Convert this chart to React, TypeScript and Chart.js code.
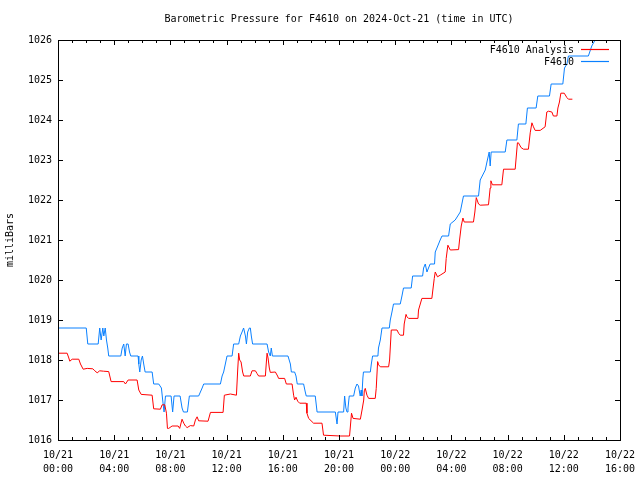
import React, { useEffect, useRef } from 'react';
import { Chart, registerables } from 'chart.js';

Chart.register(...registerables);

const TITLE = 'Barometric Pressure for F4610 on 2024-Oct-21 (time in UTC)';
const Y_TITLE = 'milliBars';
const X_TICK_DATES = ['10/21', '10/21', '10/21', '10/21', '10/21', '10/21', '10/22', '10/22', '10/22', '10/22', '10/22'];
const X_TICK_TIMES = ['00:00', '04:00', '08:00', '12:00', '16:00', '20:00', '00:00', '04:00', '08:00', '12:00', '16:00'];
const X_MIN = 0;
const X_MAX = 40;
const Y_MIN = 1016;
const Y_MAX = 1026;

const SERIES_NAMES = ['F4610 Analysis', 'F4610'];
const SERIES_COLORS = ['#ff0000', '#0a80ff'];

// hours since 10/21 00:00 UTC
const analysisHours = [
  0, 0.65, 0.77, 0.84, 1.01, 1.48, 1.6, 1.79, 2.08, 2.48, 2.62, 2.79, 2.97, 3.24, 3.61, 3.78, 4.68, 4.8, 4.99, 5.63,
  5.75, 5.92, 6.7, 6.81, 7.29, 7.41, 7.6, 7.72, 7.79, 7.88, 8.12, 8.55, 8.66, 8.83, 8.95, 9.07, 9.19, 9.42, 9.66, 9.78,
  9.9, 10.01, 10.68, 10.85, 11.75, 11.84, 12.27, 12.7, 12.79, 12.86, 12.93, 13.03, 13.14, 13.22, 13.69, 13.81, 14.05, 14.17, 14.28, 14.76,
  14.83, 14.88, 14.95, 15.04, 15.11, 15.47, 15.63, 15.7, 16.13, 16.25, 16.66, 16.77, 16.84, 16.94, 17.06, 17.2, 17.67, 17.72, 17.84, 18.19,
  18.79, 18.9, 20.09, 20.75, 20.8, 20.89, 21.0, 21.52, 21.64, 21.76, 21.8, 21.87, 21.99, 22.11, 22.58, 22.65, 22.75, 22.82, 22.94, 23.53,
  23.6, 23.72, 24.13, 24.24, 24.36, 24.59, 24.64, 24.77, 24.84, 24.95, 25.62, 25.66, 25.9, 26.61, 26.68, 26.78, 26.85, 27.01, 27.2, 27.56,
  27.63, 27.75, 27.92, 28.51, 28.58, 28.7, 28.82, 28.91, 29.57, 29.67, 29.77, 29.93, 30.05, 30.64, 30.76, 30.81, 30.92, 31.59, 31.71, 32.54,
  32.7, 32.77, 32.96, 33.13, 33.48, 33.61, 33.73, 33.84, 33.96, 34.32, 34.67, 34.79, 34.91, 35.15, 35.26, 35.51, 35.58, 35.69, 35.79, 36.03,
  36.22, 36.33, 36.61,
];
const analysisMb = [
  1018.17, 1018.17, 1018.05, 1017.97, 1018.02, 1018.02, 1017.9, 1017.77, 1017.79, 1017.78, 1017.73, 1017.68, 1017.73, 1017.72, 1017.71, 1017.46, 1017.46, 1017.4, 1017.5, 1017.5,
  1017.25, 1017.14, 1017.12, 1016.78, 1016.77, 1016.88, 1016.88, 1016.67, 1016.29, 1016.29, 1016.35, 1016.35, 1016.29, 1016.52, 1016.42, 1016.35, 1016.31, 1016.36, 1016.35, 1016.5,
  1016.58, 1016.48, 1016.47, 1016.69, 1016.69, 1017.12, 1017.15, 1017.12, 1017.75, 1018.17, 1018.0, 1017.95, 1017.7, 1017.6, 1017.6, 1017.73, 1017.73, 1017.66, 1017.6, 1017.6,
  1017.95, 1018.17, 1018.05, 1017.8, 1017.69, 1017.7, 1017.6, 1017.54, 1017.54, 1017.4, 1017.4, 1017.12, 1017.0, 1017.07, 1016.97, 1016.92, 1016.92, 1016.67, 1016.54, 1016.42,
  1016.42, 1016.12, 1016.1, 1016.1, 1016.3, 1016.67, 1016.54, 1016.52, 1016.75, 1017.0, 1017.23, 1017.29, 1017.12, 1017.04, 1017.04, 1017.29, 1017.96, 1017.88, 1017.83, 1017.83,
  1018.0, 1018.75, 1018.75, 1018.67, 1018.62, 1018.62, 1018.9, 1019.14, 1019.08, 1019.04, 1019.04, 1019.25, 1019.54, 1019.54, 1019.75, 1020.04, 1020.2, 1020.08, 1020.12, 1020.2,
  1020.54, 1020.87, 1020.75, 1020.76, 1021.0, 1021.35, 1021.55, 1021.45, 1021.45, 1021.7, 1022.06, 1021.9, 1021.87, 1021.88, 1022.3, 1022.48, 1022.38, 1022.38, 1022.77, 1022.77,
  1023.43, 1023.43, 1023.31, 1023.27, 1023.27, 1023.68, 1023.93, 1023.83, 1023.74, 1023.74, 1023.83, 1024.2, 1024.22, 1024.2, 1024.1, 1024.1, 1024.3, 1024.45, 1024.67, 1024.67,
  1024.56, 1024.52, 1024.52,
];

const stationHours = [
  0, 2.01, 2.12, 2.86, 2.97, 3.07, 3.19, 3.26, 3.36, 3.45, 3.54, 3.61, 4.47, 4.57, 4.68, 4.78, 4.87, 4.99, 5.09, 5.18,
  5.7, 5.75, 5.82, 5.92, 6.01, 6.1, 6.2, 6.7, 6.81, 7.17, 7.36, 7.45, 7.55, 7.65, 8.05, 8.16, 8.26, 8.69, 8.83, 8.93,
  9.21, 9.35, 10.01, 10.26, 10.37, 11.56, 11.68, 11.79, 11.91, 12.03, 12.39, 12.5, 12.86, 12.98, 13.1, 13.21, 13.34, 13.41, 13.5, 13.62,
  13.69, 13.76, 13.85, 14.88, 14.99, 15.11, 15.18, 15.26, 16.37, 16.54, 16.61, 16.84, 16.94, 17.03, 17.48, 17.6, 17.67, 18.31, 18.44, 19.74,
  19.86, 19.93, 20.33, 20.4, 20.49, 20.57, 20.64, 20.73, 21.04, 21.16, 21.28, 21.39, 21.51, 21.58, 21.63, 21.7, 21.74, 22.23, 22.3, 22.39,
  22.77, 22.81, 22.94, 23.06, 23.58, 23.65, 23.77, 23.88, 24.36, 24.48, 24.59, 25.14, 25.24, 25.95, 26.02, 26.14, 26.26, 26.37, 26.49, 26.8,
  26.85, 26.97, 27.2, 27.33, 27.8, 27.92, 28.27, 28.63, 28.86, 29.93, 30.05, 30.41, 30.53, 30.69, 30.76, 30.83, 31.83, 31.95, 32.66, 32.77,
  33.3, 33.41, 34.03, 34.15, 34.98, 35.1, 35.93, 36.05, 36.22, 36.33, 37.75, 37.99, 38.23, 38.37,
];
const stationMb = [
  1018.8, 1018.8, 1018.4, 1018.4, 1018.8, 1018.5, 1018.8, 1018.6, 1018.8, 1018.5, 1018.3, 1018.1, 1018.1, 1018.3, 1018.4, 1018.1, 1018.4, 1018.4, 1018.2, 1018.1,
  1018.1, 1017.9, 1017.7, 1018.0, 1018.1, 1017.9, 1017.7, 1017.7, 1017.4, 1017.4, 1017.3, 1017.0, 1016.7, 1017.1, 1017.1, 1016.7, 1017.1, 1017.1, 1016.8, 1016.7,
  1016.7, 1017.1, 1017.1, 1017.3, 1017.4, 1017.4, 1017.6, 1017.7, 1017.9, 1018.1, 1018.1, 1018.4, 1018.4, 1018.6, 1018.7, 1018.8, 1018.6, 1018.4, 1018.7, 1018.8,
  1018.8, 1018.6, 1018.4, 1018.4, 1018.2, 1018.1, 1018.3, 1018.1, 1018.1, 1017.9, 1017.7, 1017.7, 1017.6, 1017.4, 1017.4, 1017.2, 1017.1, 1017.1, 1016.7, 1016.7,
  1016.4, 1016.7, 1016.7, 1017.1, 1016.8, 1016.7, 1016.8, 1017.1, 1017.1, 1017.3, 1017.4, 1017.35, 1017.1, 1017.25, 1017.1, 1017.55, 1017.7, 1017.7, 1017.9, 1018.1,
  1018.1, 1018.3, 1018.5, 1018.8, 1018.8, 1019.0, 1019.2, 1019.4, 1019.4, 1019.6, 1019.8, 1019.8, 1020.1, 1020.1, 1020.3, 1020.4, 1020.2, 1020.3, 1020.4, 1020.4,
  1020.7, 1020.8, 1021.0, 1021.1, 1021.1, 1021.4, 1021.5, 1021.7, 1022.1, 1022.1, 1022.5, 1022.75, 1022.95, 1023.2, 1022.85, 1023.2, 1023.2, 1023.5, 1023.5, 1023.9,
  1023.9, 1024.3, 1024.3, 1024.6, 1024.6, 1024.9, 1024.9, 1025.3, 1025.4, 1025.6, 1025.6, 1025.85, 1026.0, 1026.1,
];

const FONT = '"DejaVu Sans Mono", "Liberation Mono", monospace';

const gnuplotFrame = {
  id: 'gnuplotFrame',
  afterDatasetsDraw(chart: any) {
    const ctx = chart.ctx;
    const { left, right, top } = chart.chartArea;
    ctx.save();
    ctx.globalAlpha = 1;
    ctx.globalCompositeOperation = 'source-over';
    ctx.font = `10px ${FONT}`;
    ctx.fillStyle = '#000000';
    ctx.textAlign = 'center';
    ctx.textBaseline = 'middle';
    ctx.fillText(TITLE, (left + right) / 2, 19);
    ctx.textAlign = 'right';
    SERIES_NAMES.forEach((name, i) => {
      const y = Math.round(top + 10 + i * 12);
      ctx.fillStyle = '#000000';
      ctx.fillText(name, right - 46, y);
      ctx.strokeStyle = SERIES_COLORS[i];
      ctx.lineWidth = 1.2;
      ctx.beginPath();
      ctx.moveTo(Math.round(right - 39), y - 0.5);
      ctx.lineTo(Math.round(right - 11), y - 0.5);
      ctx.stroke();
    });
    ctx.restore();
  },
  afterDraw(chart: any) {
    const ctx = chart.ctx;
    const { left, right, top, bottom } = chart.chartArea;
    const xs = chart.scales.x;
    const ys = chart.scales.y;
    ctx.save();
    ctx.strokeStyle = '#000';
    ctx.lineWidth = 1;
    ctx.beginPath();
    for (let h = X_MIN; h <= X_MAX; h += 1) {
      const px = Math.round(xs.getPixelForValue(h)) + 0.5;
      const len = h % 4 === 0 ? 5 : 3;
      ctx.moveTo(px, bottom);
      ctx.lineTo(px, bottom - len);
      ctx.moveTo(px, top);
      ctx.lineTo(px, top + len);
    }
    for (let v = Y_MIN; v <= Y_MAX; v += 1) {
      const py = Math.round(ys.getPixelForValue(v)) + 0.5;
      ctx.moveTo(left, py);
      ctx.lineTo(left + 5, py);
      ctx.moveTo(right, py);
      ctx.lineTo(right - 5, py);
    }
    ctx.stroke();
    ctx.strokeRect(Math.round(left) + 0.5, Math.round(top) + 0.5, Math.round(right - left), Math.round(bottom - top));
    ctx.restore();
  },
};

export default function App() {
  const ref = useRef<HTMLCanvasElement>(null);

  useEffect(() => {
    document.body.style.margin = '0';
    const canvas = ref.current;
    if (!canvas) return;
    const chart = new Chart(canvas, {
      type: 'line',
      data: {
        datasets: [
          {
            label: SERIES_NAMES[0],
            data: analysisHours.map((h, i) => ({ x: h, y: analysisMb[i] })),
            borderColor: SERIES_COLORS[0],
            backgroundColor: SERIES_COLORS[0],
            borderWidth: 1,
            pointRadius: 0,
            tension: 0,
            fill: false,
          },
          {
            label: SERIES_NAMES[1],
            data: stationHours.map((h, i) => ({ x: h, y: stationMb[i] })),
            borderColor: SERIES_COLORS[1],
            backgroundColor: SERIES_COLORS[1],
            borderWidth: 1,
            pointRadius: 0,
            tension: 0,
            fill: false,
          },
        ],
      },
      options: {
        animation: false,
        responsive: false,
        maintainAspectRatio: false,
        devicePixelRatio: 1,
        layout: { padding: { left: 0, right: 20, top: 40, bottom: 0 } },
        plugins: {
          legend: { display: false },
          tooltip: { enabled: false },
          title: { display: false },
        },
        scales: {
          x: {
            type: 'linear',
            min: X_MIN,
            max: X_MAX,
            grid: { display: false, drawTicks: false },
            border: { display: false },
            ticks: {
              stepSize: 4,
              autoSkip: false,
              maxRotation: 0,
              minRotation: 0,
              padding: 8,
              color: '#000',
              font: { family: FONT, size: 10, lineHeight: 1.4 },
              callback: (value: any) => {
                const i = Math.round(Number(value) / 4);
                return [X_TICK_DATES[i], X_TICK_TIMES[i]];
              },
            },
            afterFit: (scale: any) => {
              scale.height = 40;
              scale.paddingLeft = 0;
              scale.paddingRight = 0;
            },
          },
          y: {
            type: 'linear',
            min: Y_MIN,
            max: Y_MAX,
            grid: { display: false, drawTicks: false },
            border: { display: false },
            title: {
              display: true,
              text: Y_TITLE,
              color: '#000',
              font: { family: FONT, size: 10, lineHeight: 1.2 },
            },
            ticks: {
              stepSize: 1,
              padding: 6,
              color: '#000',
              font: { family: FONT, size: 10 },
              callback: (value: any) => String(value),
            },
            afterFit: (scale: any) => {
              scale.width = 58;
              scale.paddingTop = 0;
              scale.paddingBottom = 0;
            },
          },
        },
      },
      plugins: [gnuplotFrame],
    });
    return () => chart.destroy();
  }, []);

  return <canvas ref={ref} width={640} height={480} style={{ display: 'block', width: 640, height: 480 }} />;
}
